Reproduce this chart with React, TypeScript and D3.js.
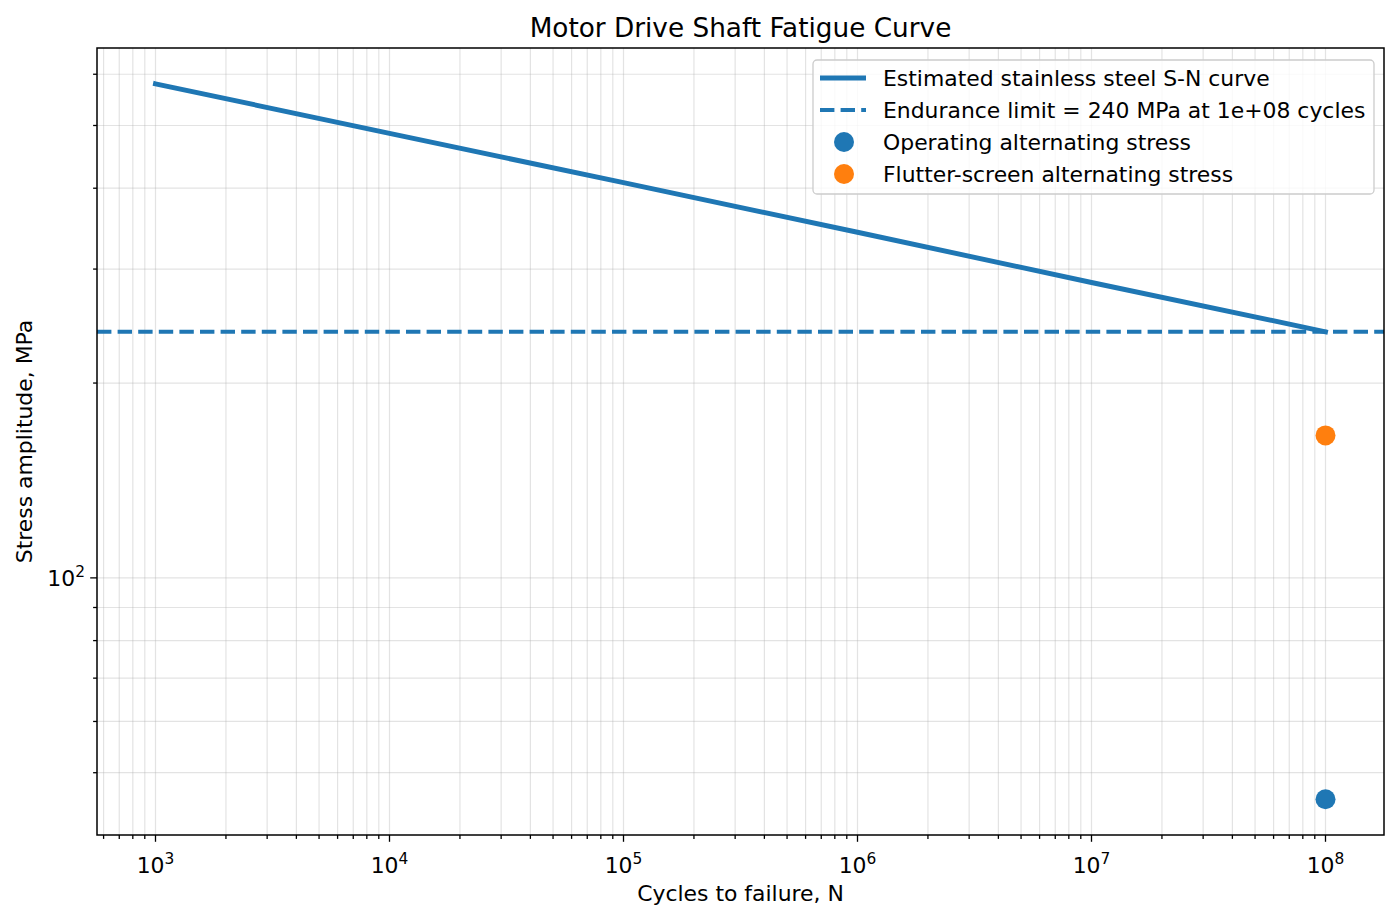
import React, { useEffect, useRef } from "react";
import * as d3 from "d3";

// S-N curve points (cycles, MPa)
const curveCycles = [1e3, 1e4, 1e5, 1e6, 1e7, 1e8];
const curveStress = [580, 486, 408, 342, 286, 240];

const enduranceLimit = 240;
const enduranceCycles = 1e8;

const pointNames = ["Operating alternating stress", "Flutter-screen alternating stress"];
const pointCycles = [1e8, 1e8];
const pointStress = [45.5, 166];
const pointColors = ["#1f77b4", "#ff7f0e"];

const xMajor = [3, 4, 5, 6, 7, 8];
const yMajor = [2];

const W = 1400, H = 921;
const margin = { top: 48, right: 16, bottom: 86, left: 97 };
const FONT = "DejaVu Sans, sans-serif";
const FS = 21.9;
const SUP = 15.4;

function logDomain(lo: number, hi: number) {
    const a = Math.log10(lo), b = Math.log10(hi);
    const m = (b - a) * 0.05;
    return [Math.pow(10, a - m), Math.pow(10, b + m)];
}

function minorTicks(dom: number[]) {
    const out: number[] = [];
    const e0 = Math.floor(Math.log10(dom[0])), e1 = Math.ceil(Math.log10(dom[1]));
    for (let e = e0; e <= e1; e++) {
        for (let k = 1; k <= 9; k++) {
            const v = k * Math.pow(10, e);
            if (v >= dom[0] * 0.9999 && v <= dom[1]) out.push(v);
        }
    }
    return out;
}

function App() {
    const ref = useRef<SVGSVGElement | null>(null);

    useEffect(() => {
        document.body.style.margin = "0";
        const svg = d3.select(ref.current);
        svg.selectAll("*").remove();

        const iw = W - margin.left - margin.right;
        const ih = H - margin.top - margin.bottom;

        const x = d3.scaleLog().domain(logDomain(d3.min(curveCycles)!, d3.max(curveCycles)!)).range([0, iw]);
        const allY = curveStress.concat(pointStress);
        const y = d3.scaleLog().domain(logDomain(d3.min(allY)!, d3.max(allY)!)).range([ih, 0]);

        const g = svg.append("g").attr("transform", `translate(${margin.left},${margin.top})`);

        const xt = minorTicks(x.domain());
        const yt = minorTicks(y.domain());

        // grid (major + minor)
        g.append("g").selectAll("line").data(xt).join("line")
            .attr("x1", d => x(d)).attr("x2", d => x(d)).attr("y1", 0).attr("y2", ih)
            .attr("stroke", "#b0b0b0").attr("stroke-opacity", 0.35).attr("stroke-width", 1.2);
        g.append("g").selectAll("line").data(yt).join("line")
            .attr("y1", d => y(d)).attr("y2", d => y(d)).attr("x1", 0).attr("x2", iw)
            .attr("stroke", "#b0b0b0").attr("stroke-opacity", 0.35).attr("stroke-width", 1.2);

        // endurance limit
        g.append("line")
            .attr("x1", 0).attr("x2", iw).attr("y1", y(enduranceLimit)).attr("y2", y(enduranceLimit))
            .attr("stroke", "#1f77b4").attr("stroke-width", 3.9).attr("stroke-dasharray", "14.4,6.2");

        // S-N curve
        const line = d3.line<number>().x((d, i) => x(curveCycles[i])).y(d => y(d));
        g.append("path").datum(curveStress).attr("d", line)
            .attr("fill", "none").attr("stroke", "#1f77b4").attr("stroke-width", 4.9)
            .attr("stroke-linecap", "square");

        // points
        g.append("g").selectAll("circle").data(pointStress).join("circle")
            .attr("cx", (d, i) => x(pointCycles[i])).attr("cy", d => y(d)).attr("r", 10)
            .attr("fill", (d, i) => pointColors[i]);

        // frame
        g.append("rect").attr("width", iw).attr("height", ih)
            .attr("fill", "none").attr("stroke", "black").attr("stroke-width", 1.5);

        // ticks
        const tk = g.append("g").attr("stroke", "black").attr("stroke-width", 1.3);
        xt.forEach(v => {
            const major = Math.abs(Math.log10(v) - Math.round(Math.log10(v))) < 1e-9;
            tk.append("line").attr("x1", x(v)).attr("x2", x(v)).attr("y1", ih).attr("y2", ih + (major ? 6.8 : 3.9));
        });
        yt.forEach(v => {
            const major = Math.abs(Math.log10(v) - Math.round(Math.log10(v))) < 1e-9;
            tk.append("line").attr("y1", y(v)).attr("y2", y(v)).attr("x1", 0).attr("x2", -(major ? 6.8 : 3.9));
        });

        // tick labels
        xMajor.forEach(e => {
            const t = g.append("text").attr("x", x(Math.pow(10, e))).attr("y", ih + 38)
                .attr("text-anchor", "middle").attr("font-family", FONT).attr("font-size", FS);
            t.append("tspan").text("10");
            t.append("tspan").attr("dy", -9).attr("font-size", SUP).text(String(e));
        });
        yMajor.forEach(e => {
            const t = g.append("text").attr("x", -12).attr("y", y(Math.pow(10, e)) + 8)
                .attr("text-anchor", "end").attr("font-family", FONT).attr("font-size", FS);
            t.append("tspan").text("10");
            t.append("tspan").attr("dy", -9).attr("font-size", SUP).text(String(e));
        });

        // labels
        svg.append("text").attr("x", margin.left + iw / 2).attr("y", 37)
            .attr("text-anchor", "middle").attr("font-family", FONT).attr("font-size", 26.3)
            .text("Motor Drive Shaft Fatigue Curve");
        svg.append("text").attr("x", margin.left + iw / 2).attr("y", 901)
            .attr("text-anchor", "middle").attr("font-family", FONT).attr("font-size", FS)
            .text("Cycles to failure, N");
        svg.append("text").attr("transform", `translate(32,${margin.top + ih / 2}) rotate(-90)`)
            .attr("text-anchor", "middle").attr("font-family", FONT).attr("font-size", FS)
            .text("Stress amplitude, MPa");

        // legend
        const lg = svg.append("g").attr("transform", "translate(813,60)");
        lg.append("rect").attr("width", 561).attr("height", 134).attr("rx", 4)
            .attr("fill", "white").attr("fill-opacity", 0.8).attr("stroke", "#cccccc").attr("stroke-width", 1.3);
        const labels = [
            "Estimated stainless steel S-N curve",
            `Endurance limit = ${enduranceLimit} MPa at ${enduranceCycles.toExponential(0).replace("e+", "e+0")} cycles`,
            ...pointNames,
        ];
        labels.forEach((s, i) => {
            const cy = 18 + i * 32;
            if (i === 0) {
                lg.append("line").attr("x1", 7).attr("x2", 53).attr("y1", cy).attr("y2", cy)
                    .attr("stroke", "#1f77b4").attr("stroke-width", 4.9);
            } else if (i === 1) {
                lg.append("line").attr("x1", 7).attr("x2", 53).attr("y1", cy).attr("y2", cy)
                    .attr("stroke", "#1f77b4").attr("stroke-width", 3.9).attr("stroke-dasharray", "14.4,6.2");
            } else {
                lg.append("circle").attr("cx", 31).attr("cy", cy).attr("r", 10).attr("fill", pointColors[i - 2]);
            }
            lg.append("text").attr("x", 70).attr("y", cy + 8).attr("font-family", FONT).attr("font-size", FS).text(s);
        });
    }, []);

    return <svg ref={ref} width={W} height={H} style={{ display: "block", background: "white" }} />;
}

export default App;
